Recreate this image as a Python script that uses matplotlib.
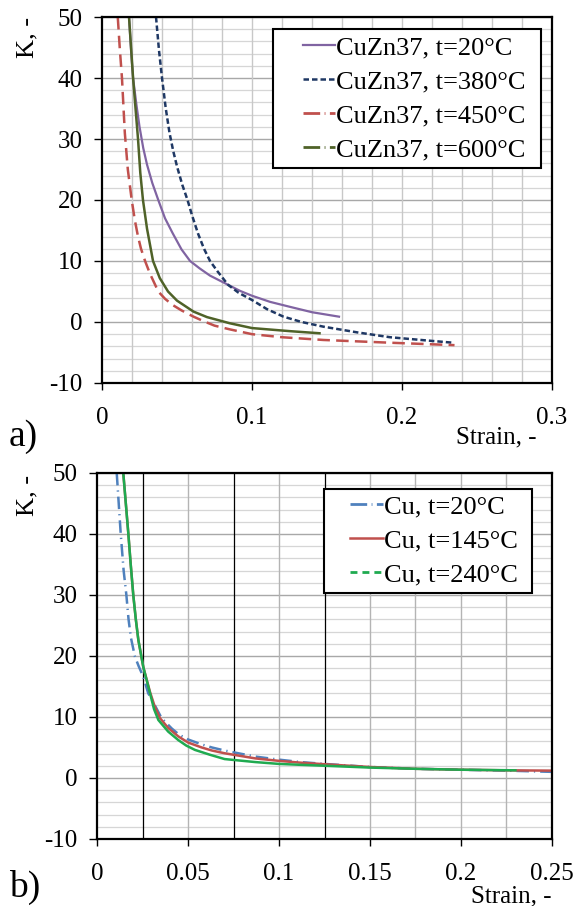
import matplotlib
matplotlib.use('Agg')
import matplotlib.pyplot as plt
from matplotlib.lines import Line2D
from matplotlib.patches import Rectangle
from matplotlib.ticker import FuncFormatter

plt.rcParams['font.family'] = ['Liberation Serif', 'DejaVu Serif']
plt.rcParams['axes.unicode_minus'] = False

# a) CuZn37 curves (strain, K)
cz20_x = [0.018, 0.0195, 0.0207, 0.023, 0.025, 0.0275, 0.030, 0.0335, 0.0375, 0.042, 0.047, 0.053, 0.0587,
          0.065, 0.072, 0.084, 0.092, 0.100, 0.112, 0.125, 0.140, 0.158]
cz20_k = [50, 44, 40, 35.5, 32, 28.5, 25.8, 22.8, 20, 17, 14.6, 11.9, 10, 8.8, 7.6, 6.1, 5.1, 4.3, 3.3, 2.5, 1.6, 0.87]
cz380_x = [0.036, 0.038, 0.040, 0.0425, 0.045, 0.0475, 0.050, 0.0535, 0.057, 0.060, 0.064, 0.068, 0.072, 0.077,
           0.084, 0.091, 0.100, 0.110, 0.121, 0.133, 0.1476, 0.170, 0.192, 0.215, 0.234]
cz380_k = [50, 44.5, 40, 35, 31, 28, 25.5, 22.5, 20, 17.5, 14.5, 12, 10, 8.3, 6.1, 4.8, 3.6, 2.1, 0.87, 0.0,
           -0.77, -1.7, -2.5, -3.0, -3.4]
cz450_x = [0.0105, 0.0118, 0.0133, 0.0152, 0.0172, 0.0198, 0.0218, 0.024, 0.026, 0.0287, 0.032, 0.0375, 0.042,
           0.047, 0.053, 0.061, 0.068, 0.075, 0.085, 0.1, 0.12, 0.1476, 0.192, 0.235]
cz450_k = [50, 45, 40, 31, 25, 20, 16.8, 14, 12, 10, 7.9, 5, 3.8, 2.8, 1.9, 0.87, 0.1, -0.6, -1.2, -2.0, -2.5,
           -2.95, -3.4, -3.8]
cz600_x = [0.018, 0.0207, 0.0225, 0.024, 0.0255, 0.0273, 0.030, 0.034, 0.0385, 0.044, 0.050, 0.061, 0.070,
           0.085, 0.1, 0.115, 0.125, 0.145]
cz600_k = [50, 40, 34.5, 30, 24.5, 20, 15.3, 10, 7.2, 5, 3.5, 1.7, 0.8, -0.2, -1.0, -1.3, -1.5, -1.85]

# b) Cu curves
cu20_x = [0.0107, 0.0118, 0.0129, 0.0145, 0.0160, 0.0172, 0.0185, 0.0207, 0.0228, 0.0253, 0.028, 0.0315, 0.0354,
          0.041, 0.045, 0.05, 0.0574, 0.063, 0.070, 0.075, 0.087, 0.1, 0.112, 0.125, 0.15, 0.175, 0.2, 0.225, 0.25]
cu20_k = [50, 45, 40, 34, 30, 26, 23, 19.9, 18.3, 16.6, 13.9, 12, 9.8, 8.1, 7.1, 6.3, 5.5, 5.0, 4.5, 4.2, 3.5,
          3.0, 2.6, 2.3, 1.8, 1.5, 1.35, 1.2, 1.0]
cu145_x = [0.0143, 0.0157, 0.0171, 0.0184, 0.0198, 0.0212, 0.0226, 0.0253, 0.029, 0.0315, 0.0345, 0.039, 0.0446,
           0.05, 0.0574, 0.063, 0.070, 0.075, 0.087, 0.1, 0.112, 0.125, 0.15, 0.175, 0.2, 0.225, 0.25]
cu145_k = [50, 45, 40, 35, 30, 26, 22.6, 18.2, 14.1, 11.8, 9.8, 8.2, 6.8, 5.8, 5.0, 4.5, 4.05, 3.8, 3.2, 2.8,
           2.5, 2.25, 1.8, 1.5, 1.35, 1.25, 1.2]
cu240_x = [0.0143, 0.0157, 0.0171, 0.0184, 0.0198, 0.0212, 0.0226, 0.0253, 0.029, 0.0312, 0.0336, 0.039, 0.0446,
           0.049, 0.0537, 0.062, 0.070, 0.075, 0.087, 0.1, 0.112, 0.125, 0.15, 0.175, 0.2, 0.23]
cu240_k = [50, 45, 40, 35, 30, 26, 22.6, 18.2, 13.9, 11.3, 9.5, 7.6, 6.2, 5.3, 4.6, 3.8, 3.1, 2.95, 2.6, 2.3,
           2.15, 2.0, 1.7, 1.5, 1.35, 1.25]

fmt = FuncFormatter(lambda v, p: '%g' % round(v, 3))

fig = plt.figure(figsize=(5.79, 9.06), dpi=100)
ax1 = fig.add_axes([0.1762, 0.5773, 0.7772, 0.4039])
ax2 = fig.add_axes([0.168, 0.0740, 0.785, 0.4040])


def style_axes(ax, xmax, xstep):
    ax.set_ylim(-10, 50)
    ax.set_xlim(0, xmax)
    ax.set_xticks([i * xstep for i in range(int(round(xmax / xstep)) + 1)])
    ax.set_yticks(range(-10, 51, 10))
    ax.xaxis.set_major_formatter(fmt)
    ax.yaxis.set_major_formatter(fmt)
    for y in range(-10, 51, 2):
        if y % 10 == 0:
            ax.axhline(y, color='#A8A8A8', lw=1.0, zorder=0)
        else:
            ax.axhline(y, color='#D6D6D6', lw=0.9, zorder=0)
    for s in ax.spines.values():
        s.set_linewidth(1.6)
        s.set_zorder(5)
    ax.tick_params(axis='y', direction='out', length=6, width=1.0, pad=8, labelsize=18)
    ax.tick_params(axis='x', direction='out', length=5, width=1.0, pad=12, labelsize=18)


def legend_box(ax, x0, y0, x1, y1):
    ax.add_patch(Rectangle((x0, y0), x1 - x0, y1 - y0, transform=ax.transAxes, facecolor='white',
                           edgecolor='black', lw=1.5, zorder=6))


style_axes(ax1, 0.3, 0.1)
for i in range(1, 15):
    ax1.axvline(i * 0.02, color='#C8C8C8', lw=1.0, zorder=0)

ax1.plot(cz20_x, cz20_k, color='#8064A2', lw=1.6)
ax1.plot(cz380_x, cz380_k, color='#1F3864', lw=1.8, linestyle=(0, (2.2, 1.2)))
ax1.plot(cz450_x, cz450_k, color='#C0504D', lw=1.8, linestyle=(0, (5, 2.5)))
ax1.plot(cz600_x, cz600_k, color='#4F6228', lw=1.8)

legend_box(ax1, 0.38, 0.5874, 0.9756, 0.967)
h1 = [Line2D([], [], color='#8064A2', lw=1.6),
      Line2D([], [], color='#1F3864', lw=1.8, linestyle=(0, (2.2, 1.2))),
      Line2D([], [], color='#C0504D', lw=2.0, linestyle=(0, (6, 1.6, 0.3, 1.6))),
      Line2D([], [], color='#4F6228', lw=2.0, linestyle=(0, (6, 1.6, 0.3, 1.6)))]
leg1 = ax1.legend(h1, ['CuZn37, t=20°C', 'CuZn37, t=380°C', 'CuZn37, t=450°C', 'CuZn37, t=600°C'],
                  loc='upper left', bbox_to_anchor=(0.4467, 0.948), fontsize=19, frameon=False,
                  handlelength=1.2, handletextpad=0.05, labelspacing=0.4, borderpad=0, borderaxespad=0)
leg1.set_zorder(7)

style_axes(ax2, 0.25, 0.05)
for i in range(1, 10):
    xv = i * 0.025
    if i in (1, 3, 5):
        ax2.axvline(xv, color='black', lw=0.9, zorder=0)
    else:
        ax2.axvline(xv, color='#B4B4B4', lw=1.0, zorder=0)

ax2.plot(cu20_x, cu20_k, color='#4F81BD', lw=1.8, linestyle=(0, (5, 2, 0.5, 2)))
ax2.plot(cu145_x, cu145_k, color='#C0504D', lw=1.8)
ax2.plot(cu240_x, cu240_k, color='#1FAA50', lw=1.8)

legend_box(ax2, 0.4988, 0.672, 0.9564, 0.9563)
h2 = [Line2D([], [], color='#4F81BD', lw=2.0, linestyle=(0, (6, 1.6, 0.3, 1.6))),
      Line2D([], [], color='#C0504D', lw=1.8),
      Line2D([], [], color='#1FAA50', lw=2.0, linestyle=(0, (2.5, 1.8)))]
leg2 = ax2.legend(h2, ['Cu, t=20°C', 'Cu, t=145°C', 'Cu, t=240°C'],
                  loc='upper left', bbox_to_anchor=(0.556, 0.940), fontsize=19, frameon=False,
                  handlelength=1.25, handletextpad=0.05, labelspacing=0.4, borderpad=0, borderaxespad=0)
leg2.set_zorder(7)

fig.text(0.048, 0.981, 'K, -', rotation=90, ha='center', va='top', fontsize=19)
fig.text(0.048, 0.476, 'K, -', rotation=90, ha='center', va='top', fontsize=19)
fig.text(0.926, 0.5177, 'Strain, -', ha='right', va='center', fontsize=18)
fig.text(0.952, 0.011, 'Strain, -', ha='right', va='center', fontsize=18)
fig.text(0.015, 0.518, 'a)', ha='left', va='center', fontsize=27)
fig.text(0.015, 0.02, 'b)', ha='left', va='center', fontsize=27)

fig.savefig('out.png', dpi=100)
